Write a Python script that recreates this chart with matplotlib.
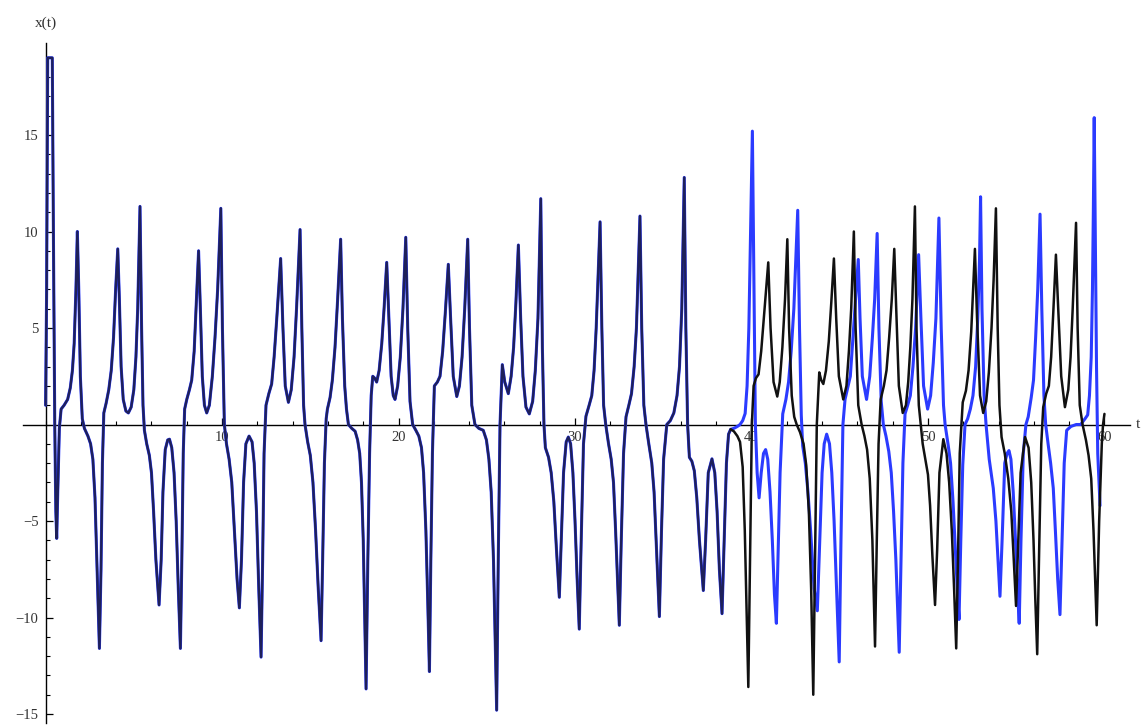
import numpy as np
import matplotlib.pyplot as plt
from matplotlib.ticker import MultipleLocator, FuncFormatter

# (t, x) samples of x(t); both runs coincide until t ~ 38.8
shared_path = [
    (0.00, 1.0), (0.06, 7.0), (0.12, 19.0), (0.38, 19.0), (0.45, 9.0), (0.52, 0.0),
    (0.58, -4.5), (0.63, -5.9), (0.69, -3.5), (0.78, -0.2), (0.88, 0.8), (1.05, 1.0),
    (1.25, 1.3), (1.40, 1.9), (1.52, 2.8), (1.62, 4.2), (1.72, 7.0), (1.80, 10.0),
    (1.88, 7.0), (1.97, 2.5), (2.08, 0.3), (2.20, -0.2), (2.40, -0.6), (2.55, -1.0),
    (2.68, -1.8), (2.80, -3.8), (2.92, -7.5), (3.05, -11.6), (3.14, -7.5), (3.22, -2.0),
    (3.30, 0.6), (3.43, 1.1), (3.58, 1.8), (3.72, 2.8), (3.85, 4.5), (3.97, 7.0),
    (4.09, 9.1), (4.18, 6.5), (4.28, 3.0), (4.40, 1.3), (4.55, 0.7), (4.69, 0.6),
    (4.85, 0.9), (5.00, 1.8), (5.12, 3.5), (5.22, 6.0), (5.35, 11.3), (5.44, 5.0),
    (5.52, 1.0), (5.60, -0.3), (5.73, -1.0), (5.88, -1.6), (6.00, -2.5), (6.12, -4.5),
    (6.25, -7.0), (6.43, -9.35), (6.55, -7.0), (6.65, -3.5), (6.78, -1.3), (6.92, -0.8),
    (7.02, -0.76), (7.15, -1.2), (7.28, -2.5), (7.40, -5.0), (7.52, -8.5), (7.64, -11.6),
    (7.72, -7.0), (7.80, -1.5), (7.88, 0.8), (8.00, 1.3), (8.15, 1.8), (8.28, 2.3),
    (8.42, 3.8), (8.55, 6.5), (8.67, 9.0), (8.77, 6.0), (8.88, 2.5), (9.00, 1.0),
    (9.13, 0.6), (9.28, 1.0), (9.45, 2.5), (9.60, 4.5), (9.75, 7.0), (9.93, 11.2),
    (10.02, 5.0), (10.13, 0.0), (10.25, -1.0), (10.40, -1.8), (10.55, -3.0), (10.70, -5.5),
    (10.85, -8.0), (10.98, -9.5), (11.10, -7.0), (11.22, -3.0), (11.35, -1.0), (11.53, -0.6),
    (11.70, -0.9), (11.82, -2.0), (11.95, -4.5), (12.08, -8.5), (12.21, -12.05), (12.30, -7.0),
    (12.38, -1.5), (12.49, 1.0), (12.65, 1.6), (12.81, 2.1), (12.95, 3.5), (13.10, 5.5),
    (13.32, 8.6), (13.45, 5.0), (13.58, 2.0), (13.76, 1.15), (13.92, 1.8), (14.08, 3.5),
    (14.22, 6.0), (14.42, 10.1), (14.52, 5.0), (14.62, 1.0), (14.70, 0.0), (14.85, -0.9),
    (15.00, -1.6), (15.15, -3.0), (15.30, -5.5), (15.45, -8.5), (15.61, -11.2), (15.70, -7.0),
    (15.80, -2.0), (15.90, 0.3), (15.97, 0.8), (16.12, 1.4), (16.25, 2.3), (16.40, 4.0),
    (16.55, 6.5), (16.72, 9.6), (16.82, 5.5), (16.95, 2.0), (17.05, 0.8), (17.16, 0.0),
    (17.35, -0.2), (17.54, -0.35), (17.68, -0.8), (17.80, -1.5), (17.90, -3.0), (18.00, -6.0),
    (18.16, -13.7), (18.26, -7.0), (18.36, -1.5), (18.45, 1.5), (18.54, 2.5), (18.65, 2.4),
    (18.76, 2.2), (18.90, 2.8), (19.05, 4.2), (19.18, 6.0), (19.33, 8.4), (19.45, 5.5),
    (19.58, 2.5), (19.70, 1.5), (19.80, 1.3), (19.95, 2.0), (20.10, 3.5), (20.25, 6.0),
    (20.41, 9.7), (20.52, 5.0), (20.65, 1.2), (20.80, 0.0), (20.98, -0.3), (21.15, -0.6),
    (21.30, -1.2), (21.42, -2.5), (21.55, -5.5), (21.65, -9.0), (21.75, -12.8), (21.83, -7.0),
    (21.92, -1.5), (22.03, 2.0), (22.20, 2.2), (22.35, 2.5), (22.50, 3.8), (22.65, 5.8),
    (22.82, 8.3), (22.95, 5.5), (23.10, 2.5), (23.30, 1.45), (23.45, 2.0), (23.60, 3.5),
    (23.75, 6.0), (23.92, 9.6), (24.02, 5.0), (24.15, 1.0), (24.33, 0.0), (24.55, -0.2),
    (24.80, -0.3), (24.98, -0.8), (25.12, -1.8), (25.25, -3.5), (25.38, -7.0), (25.56, -14.8),
    (25.65, -7.0), (25.75, 0.0), (25.88, 3.1), (26.02, 2.2), (26.22, 1.6), (26.38, 2.5),
    (26.52, 4.0), (26.65, 6.3), (26.79, 9.3), (26.92, 5.5), (27.05, 2.5), (27.22, 0.9),
    (27.41, 0.55), (27.60, 1.2), (27.75, 2.8), (27.90, 5.5), (28.06, 11.7), (28.15, 4.0),
    (28.24, 0.0), (28.32, -1.2), (28.50, -1.7), (28.65, -2.5), (28.80, -4.0), (28.95, -6.5),
    (29.11, -8.95), (29.22, -6.0), (29.35, -2.5), (29.50, -0.9), (29.62, -0.65), (29.75, -1.0),
    (29.88, -2.5), (30.00, -5.0), (30.12, -8.0), (30.24, -10.6), (30.35, -6.0), (30.48, -1.0),
    (30.62, 0.43), (30.80, 1.0), (30.95, 1.5), (31.08, 2.8), (31.20, 5.0), (31.42, 10.5),
    (31.52, 5.0), (31.62, 1.0), (31.74, 0.0), (31.90, -1.0), (32.05, -1.8), (32.18, -3.0),
    (32.30, -5.5), (32.51, -10.4), (32.62, -6.0), (32.75, -1.5), (32.89, 0.4), (33.05, 1.0),
    (33.20, 1.6), (33.35, 3.0), (33.48, 5.0), (33.68, 10.8), (33.78, 5.0), (33.90, 1.0),
    (34.02, 0.0), (34.18, -1.0), (34.35, -2.0), (34.48, -3.5), (34.62, -6.5), (34.78, -9.95),
    (34.90, -5.5), (35.02, -1.8), (35.20, 0.0), (35.40, 0.2), (35.60, 0.6), (35.78, 1.5),
    (35.92, 3.0), (36.05, 6.0), (36.19, 12.8), (36.28, 5.0), (36.38, 0.0), (36.48, -1.7),
    (36.62, -1.9), (36.76, -2.4), (36.90, -3.8), (37.05, -6.0), (37.27, -8.6), (37.40, -6.0),
    (37.55, -2.5), (37.76, -1.78), (37.92, -2.5), (38.05, -4.5), (38.18, -7.5), (38.33, -9.8),
    (38.45, -6.0), (38.58, -2.0), (38.70, -0.5), (38.82, -0.25),
]

# black run after the split
black_path = [
    (39.00, -0.35), (39.20, -0.6), (39.35, -0.9), (39.50, -2.2), (39.62, -5.5), (39.72, -9.5),
    (39.82, -13.6), (39.92, -7.0), (40.02, 0.0), (40.12, 2.0), (40.25, 2.4), (40.40, 2.6),
    (40.55, 3.8), (40.70, 5.5), (40.95, 8.4), (41.08, 5.0), (41.25, 2.2), (41.46, 1.45),
    (41.60, 2.2), (41.75, 4.0), (41.90, 6.5), (42.03, 9.6), (42.13, 5.0), (42.28, 1.5),
    (42.42, 0.4), (42.56, 0.0), (42.75, -0.4), (42.95, -1.0), (43.10, -2.1), (43.25, -4.5),
    (43.38, -8.5), (43.50, -14.0), (43.60, -7.0), (43.70, 0.0), (43.84, 2.7), (43.95, 2.3),
    (44.07, 2.1), (44.22, 2.8), (44.38, 4.3), (44.52, 6.3), (44.67, 8.6), (44.80, 5.5),
    (44.95, 2.5), (45.20, 1.3), (45.38, 2.0), (45.52, 3.8), (45.65, 6.0), (45.80, 10.0),
    (45.90, 5.0), (46.05, 1.0), (46.24, 0.0), (46.40, -0.6), (46.55, -1.3), (46.70, -2.8),
    (46.85, -6.0), (47.00, -11.5), (47.10, -6.0), (47.20, -1.0), (47.32, 1.3), (47.50, 2.0),
    (47.65, 2.8), (47.80, 4.5), (47.95, 6.5), (48.09, 9.1), (48.20, 6.0), (48.35, 2.0),
    (48.57, 0.6), (48.75, 1.0), (48.88, 2.2), (49.00, 4.0), (49.12, 6.5), (49.26, 11.3),
    (49.35, 5.0), (49.48, 1.0), (49.59, 0.0), (49.70, -1.0), (49.85, -1.8), (50.00, -2.6),
    (50.12, -4.2), (50.25, -6.8), (50.40, -9.35), (50.52, -6.5), (50.65, -2.5), (50.87, -0.76),
    (51.05, -1.5), (51.20, -3.0), (51.35, -5.5), (51.48, -8.5), (51.60, -11.6), (51.70, -7.0),
    (51.80, -1.5), (51.97, 1.15), (52.15, 1.75), (52.30, 2.8), (52.45, 4.8), (52.66, 9.1),
    (52.78, 5.5), (52.95, 1.5), (53.13, 0.6), (53.30, 1.2), (53.45, 2.7), (53.60, 5.0),
    (53.72, 7.5), (53.85, 11.2), (53.95, 5.0), (54.05, 1.0), (54.17, -0.65), (54.35, -1.5),
    (54.55, -2.8), (54.72, -4.5), (54.85, -6.8), (54.99, -9.4), (55.10, -6.5), (55.25, -2.5),
    (55.50, -0.65), (55.70, -1.2), (55.85, -3.0), (55.98, -6.0), (56.08, -9.0), (56.19, -11.9),
    (56.30, -6.5), (56.42, -1.0), (56.53, 0.9), (56.70, 1.6), (56.85, 2.0), (56.98, 3.5),
    (57.10, 5.8), (57.25, 8.8), (57.38, 6.0), (57.55, 2.5), (57.76, 0.9), (57.95, 1.8),
    (58.08, 3.5), (58.20, 6.0), (58.39, 10.45), (58.48, 5.0), (58.60, 1.0), (58.76, 0.0),
    (58.95, -0.8), (59.10, -1.6), (59.25, -2.8), (59.38, -5.5), (59.56, -10.4), (59.70, -5.0),
    (59.85, -1.0), (59.92, 0.0), (60.00, 0.55),
]

# blue run after the split
blue_path = [
    (39.00, -0.2), (39.20, -0.1), (39.35, 0.0), (39.50, 0.2), (39.64, 0.57), (39.75, 2.0),
    (39.85, 5.0), (39.95, 10.0), (40.05, 15.2), (40.13, 8.0), (40.22, 0.0), (40.32, -2.5),
    (40.43, -3.8), (40.55, -2.5), (40.68, -1.5), (40.80, -1.3), (40.92, -1.8), (41.05, -3.5),
    (41.18, -6.0), (41.30, -8.8), (41.41, -10.3), (41.50, -7.0), (41.62, -2.5), (41.77, 0.55),
    (41.95, 1.3), (42.10, 2.2), (42.25, 3.8), (42.40, 6.0), (42.62, 11.1), (42.72, 5.0),
    (42.82, 0.5), (42.90, -1.1), (43.05, -2.0), (43.20, -3.5), (43.35, -5.5), (43.55, -8.5),
    (43.73, -9.65), (43.85, -6.5), (44.00, -2.5), (44.12, -1.0), (44.26, -0.5), (44.42, -1.0),
    (44.55, -2.5), (44.68, -5.0), (44.82, -8.5), (44.97, -12.3), (45.07, -6.0), (45.18, 0.0),
    (45.30, 1.3), (45.45, 1.9), (45.60, 2.5), (45.75, 4.5), (45.90, 6.5), (46.05, 8.55),
    (46.15, 5.5), (46.28, 2.5), (46.52, 1.3), (46.70, 2.5), (46.85, 4.5), (46.98, 6.5),
    (47.12, 9.9), (47.22, 5.0), (47.35, 1.2), (47.47, 0.0), (47.62, -0.6), (47.78, -1.4),
    (47.92, -2.5), (48.05, -4.5), (48.18, -7.0), (48.37, -11.8), (48.47, -7.0), (48.58, -2.0),
    (48.70, 0.55), (48.85, 1.0), (49.00, 1.5), (49.15, 3.0), (49.30, 5.0), (49.47, 8.8),
    (49.60, 5.5), (49.75, 2.0), (49.98, 0.8), (50.15, 1.5), (50.30, 3.2), (50.45, 5.5),
    (50.62, 10.7), (50.75, 5.0), (50.88, 1.0), (50.97, 0.0), (51.15, -1.1), (51.28, -2.0),
    (51.42, -4.0), (51.55, -6.5), (51.66, -8.5), (51.76, -10.1), (51.86, -6.0), (51.97, -2.1),
    (52.10, 0.0), (52.25, 0.3), (52.40, 0.8), (52.55, 1.5), (52.70, 3.0), (52.82, 5.5),
    (52.92, 8.5), (52.98, 11.8), (53.06, 6.0), (53.18, 1.5), (53.29, 0.0), (53.47, -1.8),
    (53.70, -3.3), (53.85, -5.0), (53.97, -7.0), (54.08, -8.9), (54.20, -6.0), (54.35, -2.0),
    (54.48, -1.5), (54.59, -1.35), (54.70, -1.8), (54.83, -3.5), (54.96, -6.0), (55.07, -8.5),
    (55.17, -10.3), (55.27, -6.0), (55.40, -1.5), (55.55, 0.0), (55.68, 0.4), (55.85, 1.4),
    (55.98, 2.3), (56.10, 4.5), (56.22, 7.0), (56.35, 10.9), (56.45, 6.0), (56.57, 1.5),
    (56.67, 0.0), (56.82, -1.1), (56.95, -2.0), (57.10, -3.3), (57.22, -5.5), (57.35, -8.0),
    (57.48, -9.85), (57.60, -6.0), (57.72, -2.0), (57.86, -0.3), (58.10, -0.1), (58.40, 0.0),
    (58.65, 0.0), (58.90, 0.3), (59.05, 0.5), (59.15, 1.5), (59.25, 3.5), (59.32, 7.0),
    (59.37, 11.0), (59.42, 15.9), (59.48, 10.0), (59.55, 3.0), (59.62, -1.5), (59.75, -4.2),
]

x_major_ticks = [10, 20, 30, 40, 50, 60]
y_major_ticks = [-15, -10, -5, 5, 10, 15]

shared = np.array(shared_path)
black_tail = np.vstack([shared[-1:], np.array(black_path)])
blue = np.vstack([shared, np.array(blue_path)])

fig = plt.figure(figsize=(11.44, 7.27), dpi=100)
ax = fig.add_axes([0.0201, 0.0059, 0.9677, 0.9345])
ax.set_xlim(-1.28, 61.45)
ax.set_ylim(-15.45, 19.75)

line_kw = dict(solid_joinstyle='round', solid_capstyle='round')
ax.plot(blue[:, 0], blue[:, 1], color='#2b3bff', lw=2.2, zorder=3, **line_kw)
# where the two runs overlap the black trace sits on the blue one
ax.plot(shared[:, 0], shared[:, 1], color='#1e205a', lw=1.7, zorder=4, **line_kw)
ax.plot(black_tail[:, 0], black_tail[:, 1], color='#111111', lw=1.8, zorder=4, **line_kw)

# axes crossing at the origin, Mathematica style
for side in ('top', 'right'):
    ax.spines[side].set_visible(False)
for side in ('left', 'bottom'):
    ax.spines[side].set_position(('data', 0))
    ax.spines[side].set_linewidth(1.0)
    ax.spines[side].set_zorder(2)

ax.xaxis.set_major_locator(plt.FixedLocator(x_major_ticks))
ax.xaxis.set_minor_locator(MultipleLocator(2))
ax.yaxis.set_major_locator(plt.FixedLocator(y_major_ticks))
ax.yaxis.set_minor_locator(MultipleLocator(1))
fmt = FuncFormatter(lambda v, p: f'{v:.0f}'.replace('-', '\u2212'))
ax.xaxis.set_major_formatter(fmt)
ax.yaxis.set_major_formatter(fmt)

ax.tick_params(which='major', direction='in', length=5, width=0.9, labelsize=10.5,
               labelcolor='#333333', pad=5)
ax.tick_params(which='minor', direction='in', length=3, width=0.8)
for lab in ax.get_xticklabels() + ax.get_yticklabels():
    lab.set_family('Liberation Serif')

ax.text(0, 20.8, 'x(t)', ha='center', va='center', fontsize=11,
        family='Liberation Serif', color='#333333', clip_on=False)
ax.text(61.75, 0, 't', ha='left', va='center', fontsize=11,
        family='Liberation Serif', color='#333333', clip_on=False)

fig.savefig('out.png', dpi=100)
